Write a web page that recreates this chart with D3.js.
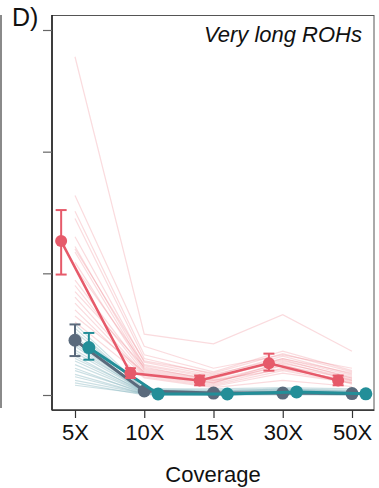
<!DOCTYPE html>
<html>
<head>
<meta charset="utf-8">
<script src="https://cdn.jsdelivr.net/npm/d3@7"></script>
<style>
  html, body { margin: 0; padding: 0; background: #fff; }
  svg { display: block; }
  text { font-family: "Liberation Sans", Arial, Helvetica, sans-serif; }
</style>
</head>
<body>
<svg id="chart" width="379" height="488"></svg>
<script>
// ---- Data ----
const categories = ["5X", "10X", "15X", "30X", "50X"];
const yTicks = [0, 1, 2, 3];
const panelLabel = "D)";
const panelTitle = "Very long ROHs";
const xTitle = "Coverage";

// group means and intervals
const meanRed  = [1.265, 0.18, 0.12, 0.26, 0.12];
const loRed    = [0.99, 0.14, 0.08, 0.20, 0.08];
const hiRed    = [1.52, 0.22, 0.16, 0.34, 0.16];
const meanGrey = [0.45, 0.033, 0.016, 0.016, 0.012];
const loGrey   = [0.32, 0.033, 0.016, 0.016, 0.012];
const hiGrey   = [0.58, 0.033, 0.016, 0.016, 0.012];
const meanTeal = [0.39, 0.008, 0.008, 0.025, 0.01];
const loTeal   = [0.29, 0.008, 0.008, 0.025, 0.01];
const hiTeal   = [0.51, 0.008, 0.008, 0.025, 0.01];

// individual samples (thin lines)
const redSamples = [
  [2.78, 0.50, 0.42, 0.66, 0.36],
  [1.64, 0.40, 0.22, 0.33, 0.22],
  [1.51, 0.33, 0.19, 0.36, 0.20],
  [1.45, 0.30, 0.17, 0.30, 0.18],
  [1.30, 0.27, 0.16, 0.32, 0.17],
  [1.22, 0.24, 0.14, 0.28, 0.15],
  [1.175, 0.22, 0.13, 0.30, 0.16],
  [1.09, 0.21, 0.12, 0.26, 0.14],
  [0.945, 0.20, 0.11, 0.24, 0.13],
  [0.90, 0.18, 0.10, 0.27, 0.12],
  [0.805, 0.17, 0.09, 0.22, 0.11],
  [0.755, 0.16, 0.08, 0.20, 0.10],
  [0.70, 0.15, 0.07, 0.18, 0.10],
  [0.65, 0.19, 0.10, 0.25, 0.09],
  [1.05, 0.25, 0.15, 0.29, 0.14],
  [0.85, 0.23, 0.12, 0.21, 0.12],
  [1.20, 0.28, 0.18, 0.34, 0.19],
  [0.60, 0.14, 0.06, 0.12, 0.07]
];
const blueSamples = [
  [0.58, 0.05, 0.04, 0.05, 0.04],
  [0.55, 0.04, 0.03, 0.04, 0.03],
  [0.52, 0.05, 0.05, 0.06, 0.05],
  [0.48, 0.03, 0.02, 0.03, 0.02],
  [0.45, 0.04, 0.03, 0.05, 0.03],
  [0.42, 0.03, 0.02, 0.02, 0.02],
  [0.40, 0.02, 0.02, 0.03, 0.02],
  [0.37, 0.04, 0.03, 0.04, 0.03],
  [0.35, 0.03, 0.02, 0.02, 0.02],
  [0.32, 0.02, 0.01, 0.02, 0.01],
  [0.30, 0.03, 0.02, 0.03, 0.02],
  [0.28, 0.02, 0.01, 0.01, 0.01],
  [0.25, 0.02, 0.02, 0.02, 0.02],
  [0.22, 0.01, 0.01, 0.01, 0.01],
  [0.20, 0.02, 0.01, 0.02, 0.01],
  [0.17, 0.01, 0.01, 0.01, 0.01],
  [0.15, 0.01, 0.00, 0.01, 0.00],
  [0.12, 0.01, 0.01, 0.01, 0.01],
  [0.10, 0.00, 0.00, 0.00, 0.00],
  [0.08, 0.01, 0.00, 0.01, 0.00]
];

// ---- Layout ----
const svg = d3.select("#chart");
const box = { left: 52, right: 374, top: 15, bottom: 410 };

const x = d3.scalePoint().domain(categories).range([75, 352]);
const y = d3.scaleLinear().domain([0, 3]).range([395, 30]);
const dodge = x.step() * 0.2;

const colRed = "#e65a6a", colGrey = "#5a6a7c", colTeal = "#238e98";

// neighbouring panel edge
svg.append("line").attr("x1", 1).attr("x2", 1).attr("y1", 15).attr("y2", 408)
  .attr("stroke", "#8a8a8a").attr("stroke-width", 2);

// panel box
svg.append("rect").attr("x", box.left).attr("y", box.top + 0.5)
  .attr("width", box.right - box.left).attr("height", box.bottom - box.top)
  .attr("fill", "none").attr("stroke", "#555").attr("stroke-width", 1);
svg.append("line").attr("x1", box.left).attr("x2", box.left).attr("y1", box.top).attr("y2", box.bottom)
  .attr("stroke", "#111").attr("stroke-width", 1.4);
svg.append("line").attr("x1", box.left).attr("x2", box.right).attr("y1", box.bottom).attr("y2", box.bottom)
  .attr("stroke", "#333").attr("stroke-width", 1.4);

// y axis ticks (no labels)
const yAxis = d3.axisLeft(y).tickValues(yTicks).tickSize(9).tickFormat("");
svg.append("g").attr("transform", `translate(${box.left},0)`).call(yAxis)
  .call(g => g.select(".domain").remove())
  .call(g => g.selectAll("line").attr("stroke", "#666").attr("stroke-width", 1.2));

// x axis
const xAxis = d3.axisBottom(x).tickSize(8).tickPadding(6);
svg.append("g").attr("transform", `translate(0,${box.bottom})`).call(xAxis)
  .call(g => g.select(".domain").remove())
  .call(g => g.selectAll("line").attr("stroke", "#333").attr("stroke-width", 1.2))
  .call(g => g.selectAll("text").attr("font-size", 22).attr("fill", "#111")
    .attr("font-family", "Liberation Sans, Arial, sans-serif"));

// titles
svg.append("text").attr("x", 12).attr("y", 26).attr("font-size", 25).attr("fill", "#111").text(panelLabel);
svg.append("text").attr("x", 362).attr("y", 42).attr("font-size", 22).attr("font-style", "italic")
  .attr("text-anchor", "end").attr("fill", "#111").text(panelTitle);
svg.append("text").attr("x", 213).attr("y", 482).attr("font-size", 22).attr("text-anchor", "middle")
  .attr("fill", "#111").text(xTitle);

// thin sample lines
const thin = d3.line().x((d, i) => x(categories[i])).y(d => y(d));
svg.append("g").selectAll("path").data(redSamples).join("path")
  .attr("d", thin).attr("fill", "none").attr("stroke", colRed)
  .attr("stroke-opacity", 0.22).attr("stroke-width", 1.2);
svg.append("g").selectAll("path").data(blueSamples).join("path")
  .attr("d", thin).attr("fill", "none").attr("stroke", "#8fbac4")
  .attr("stroke-opacity", 0.45).attr("stroke-width", 1.2);

// mean series
const series = [
  { name: "grey", mean: meanGrey, lo: loGrey, hi: hiGrey, col: colGrey, off: 0, r: 6.5, w: 3 },
  { name: "teal", mean: meanTeal, lo: loTeal, hi: hiTeal, col: colTeal, off: dodge, r: 6.5, w: 3 },
  { name: "red", mean: meanRed, lo: loRed, hi: hiRed, col: colRed, off: -dodge, r: 6, w: 2.5 }
];

series.forEach(s => {
  const g = svg.append("g");
  const line = d3.line().x((d, i) => x(categories[i]) + s.off).y(d => y(d));
  g.append("path").datum(s.mean).attr("d", line).attr("fill", "none")
    .attr("stroke", s.col).attr("stroke-width", s.w);
  categories.forEach((c, i) => {
    const cx = x(c) + s.off;
    if (s.hi[i] > s.lo[i]) {
      g.append("line").attr("x1", cx).attr("x2", cx).attr("y1", y(s.lo[i])).attr("y2", y(s.hi[i]))
        .attr("stroke", s.col).attr("stroke-width", 2);
      [s.lo[i], s.hi[i]].forEach(v => {
        g.append("line").attr("x1", cx - 5.5).attr("x2", cx + 5.5).attr("y1", y(v)).attr("y2", y(v))
          .attr("stroke", s.col).attr("stroke-width", 2);
      });
    }
    g.append("circle").attr("cx", cx).attr("cy", y(s.mean[i])).attr("r", s.r).attr("fill", s.col);
  });
});
</script>
</body>
</html>
